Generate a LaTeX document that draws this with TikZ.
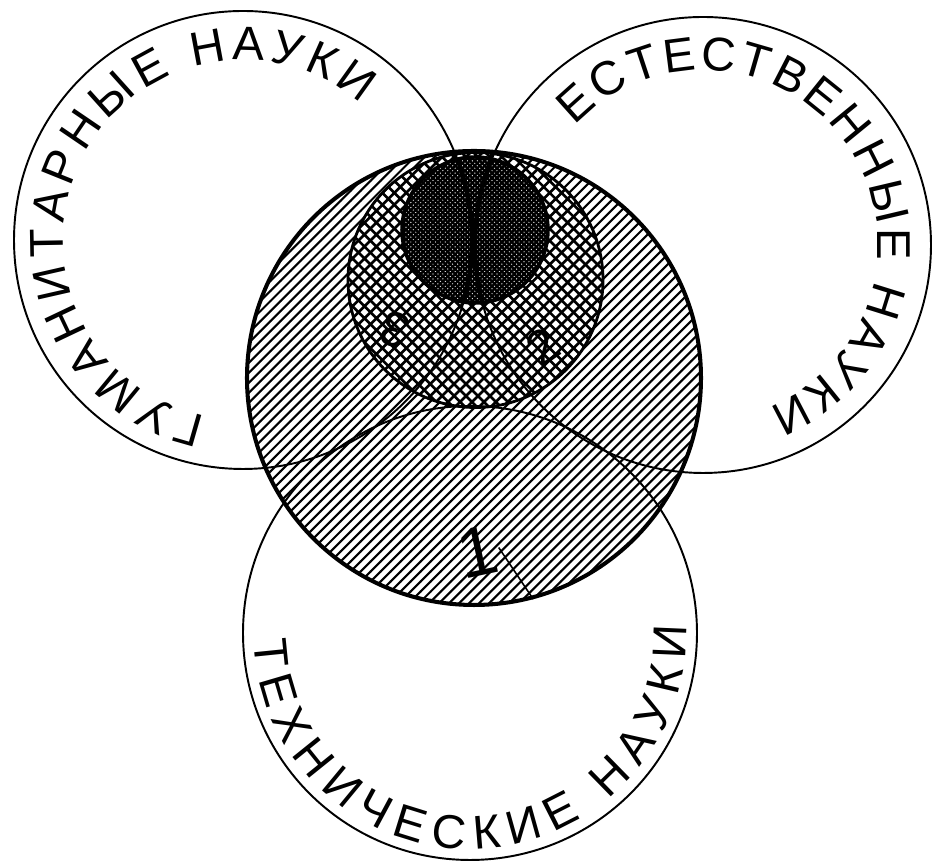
\documentclass[tikz,border=0pt]{standalone}
\usepackage{fontspec}
\setmainfont{Liberation Sans}
\usetikzlibrary{patterns,decorations.text}
\newcommand\arcfont{\fontsize{27}{27}\selectfont}
\newcommand\bignum{\fontsize{40}{40}\selectfont}
\newcommand\smallnum{\fontsize{28}{28}\selectfont}
% single hatching, double hatching, dense hatching
\pgfdeclarepatternformonly{hatchNE}{\pgfqpoint{-1pt}{-1pt}}{\pgfqpoint{6.7pt}{6.7pt}}{\pgfqpoint{5.7pt}{5.7pt}}{%
  \pgfsetlinewidth{1.2pt}
  \pgfpathmoveto{\pgfqpoint{0pt}{0pt}}
  \pgfpathlineto{\pgfqpoint{5.8pt}{5.8pt}}
  \pgfusepath{stroke}}
\pgfdeclarepatternformonly{crossX}{\pgfqpoint{-1pt}{-1pt}}{\pgfqpoint{7.8pt}{7.8pt}}{\pgfqpoint{6.8pt}{6.8pt}}{%
  \pgfsetlinewidth{1.5pt}
  \pgfpathmoveto{\pgfqpoint{0pt}{0pt}}
  \pgfpathlineto{\pgfqpoint{6.9pt}{6.9pt}}
  \pgfpathmoveto{\pgfqpoint{-0.1pt}{6.9pt}}
  \pgfpathlineto{\pgfqpoint{6.9pt}{-0.1pt}}
  \pgfusepath{stroke}}
\pgfdeclarepatternformonly{crossFine}{\pgfqpoint{-1pt}{-1pt}}{\pgfqpoint{3.8pt}{3.8pt}}{\pgfqpoint{2.8pt}{2.8pt}}{%
  \pgfsetlinewidth{1.3pt}
  \pgfpathmoveto{\pgfqpoint{0pt}{0pt}}
  \pgfpathlineto{\pgfqpoint{2.9pt}{2.9pt}}
  \pgfpathmoveto{\pgfqpoint{-0.1pt}{2.9pt}}
  \pgfpathlineto{\pgfqpoint{2.9pt}{-0.1pt}}
  \pgfusepath{stroke}}

\begin{document}
\begin{tikzpicture}[
  ring/.style={circle,draw,line width=1.1pt,inner sep=0pt,minimum size=#1},
  disc/.style={circle,draw,inner sep=0pt,minimum size=#1},
  arcword/.style={decorate,decoration={text along path,text align=fit to path,text={|\arcfont|#1}}}
]
  \useasboundingbox (0,0) rectangle (18.72,17.24);
  % the big hatched circle and the two inside it
  \node[disc=9.08cm,line width=2.3pt,pattern=hatchNE] (all) at (9.48,9.68) {};
  \node[disc=5.1cm,line width=1.6pt,preaction={fill=white},pattern=crossX] (cross) at (9.51,11.64) {};
  \node[disc=2.92cm,line width=2pt,preaction={fill=white},pattern=crossFine] (core) at (9.50,12.64) {};
  % three fields
  \node[ring=9.16cm] (hum) at (4.86,12.44) {};
  \node[ring=9.12cm] (nat) at (14.06,12.34) {};
  \node[ring=9.08cm] (tech) at (9.40,4.58) {};
  \begin{scope}
    \clip (core.center) circle[radius=1.46];
    \draw[line width=2.5pt] (hum.center) circle[radius=4.58] (nat.center) circle[radius=4.56];
  \end{scope}
  % numbers
  \node[font=\bignum,rotate=12,inner sep=1pt] (one) at (9.55,6.20) {1};
  \draw[line width=0.9pt] (one.east) -- (all.-75);
  \node[font=\smallnum,rotate=160] (three) at (7.90,10.64) {3};
  \node[font=\smallnum,rotate=35] (two) at (10.86,10.30) {2};
  % names along the rings
  \path[arcword={ГУМАНИТАРНЫЕ НАУКИ}] ([shift={(258:3.6)}]hum.center) arc[start angle=258,end angle=49,radius=3.6];
  \path[arcword={ЕСТЕСТВЕННЫЕ НАУКИ}] ([shift={(137:3.5)}]nat.center) arc[start angle=137,end angle=-68,radius=3.5];
  \path[arcword={ТЕХНИЧЕСКИЕ НАУКИ}] ([shift={(182:4.32)}]tech.center) arc[start angle=182,end angle=362,radius=4.32];
\end{tikzpicture}
\end{document}
